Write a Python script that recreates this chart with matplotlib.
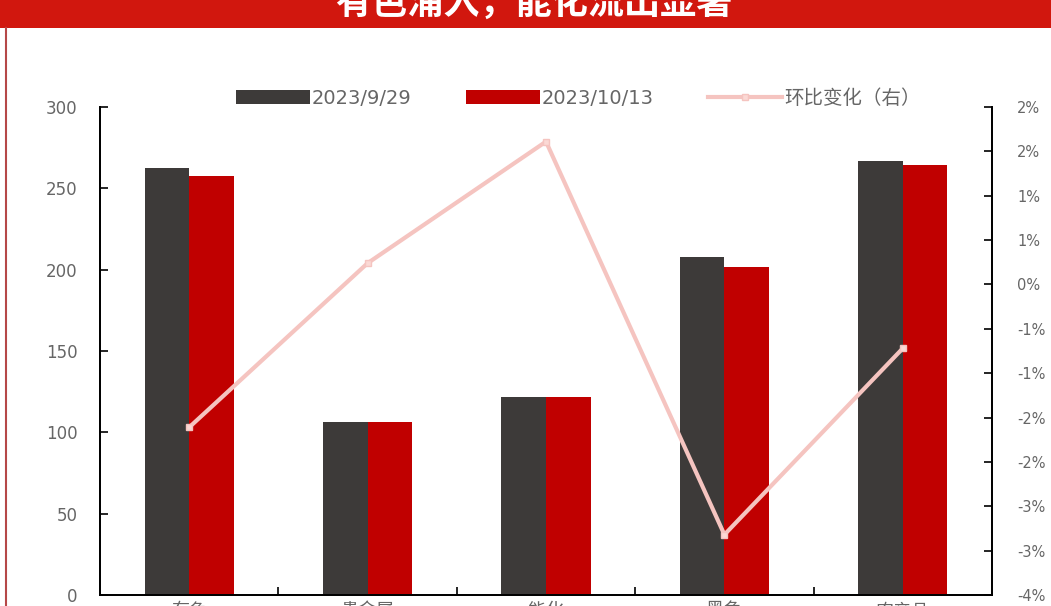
#!/usr/bin/env python3
"""
Sector fund flows: two snapshot bars per sector plus the period-over-period change on a right axis.
"""

import math
import numpy as np
import matplotlib
matplotlib.use("Agg")
import matplotlib.pyplot as plt
from matplotlib.ticker import FixedLocator, FuncFormatter

plt.rcParams["font.family"] = ["DejaVu Sans", "Noto Sans CJK SC"]

# ---- data ------------------------------------------------------------------
TITLE = "有色涌入，能化流出显著"
CATEGORIES = ["有色", "贵金属", "能化", "黑色", "农产品"]
SERIES_NAMES = ["2023/9/29", "2023/10/13", "环比变化（右）"]
VALUES_0929 = [262.3, 106.5, 121.9, 208.0, 267.0]
VALUES_1013 = [257.6, 106.5, 121.9, 201.8, 264.3]
CHANGE_PCT = [-1.61, 0.24, 1.61, -2.82, -0.72]
LEFT_TICKS = [0, 50, 100, 150, 200, 250, 300]
RIGHT_TICKS = [-3.5, -3.0, -2.5, -2.0, -1.5, -1.0, -0.5, 0.0, 0.5, 1.0, 1.5, 2.0]

DARK = "#3d3a39"
RED = "#c00000"
PINK = "#f5c4c0"
TITLE_RED = "#d1170e"
TICK_GREY = "#666666"


def pct_label(v, _pos=None):
    # Excel-style "0%" format: round half away from zero
    n = int(math.floor(abs(v) + 0.5))
    if n == 0:
        return "0%"
    return ("-" if v < 0 else "") + f"{n}%"


def main():
    fig = plt.figure(figsize=(10.51, 6.06), dpi=100)
    fig.patch.set_facecolor("white")

    # red title banner (its top is cut off in the reference)
    fig.patches.append(plt.Rectangle((0, 1 - 28 / 606), 1, 28 / 606,
                                     transform=fig.transFigure,
                                     facecolor=TITLE_RED, edgecolor="none"))
    fig.text(0.508, 1 - 3 / 606, TITLE, ha="center", va="center",
             fontsize=26, fontweight="bold", color="white",
             family=["Noto Sans CJK SC"])
    # thin frame line on the left
    fig.add_artist(plt.Line2D([6 / 1051, 6 / 1051], [0, 1 - 28 / 606],
                              transform=fig.transFigure,
                              color="#b54848", linewidth=1.5))

    ax = fig.add_axes([100 / 1051, 1 - 595 / 606, 892 / 1051, 488 / 606])
    x = np.arange(len(CATEGORIES))
    w = 0.25

    ax.bar(x - w / 2, VALUES_0929, width=w, color=DARK, label=SERIES_NAMES[0], zorder=2)
    ax.bar(x + w / 2, VALUES_1013, width=w, color=RED, label=SERIES_NAMES[1], zorder=2)

    ax.set_xlim(-0.5, len(CATEGORIES) - 0.5)
    ax.set_ylim(0, 300)
    ax.set_yticks(LEFT_TICKS)
    ax.set_xticks(x)
    ax.set_xticklabels(CATEGORIES, family=["Noto Sans CJK SC"], fontsize=13,
                       color=TICK_GREY)
    ax.xaxis.set_minor_locator(FixedLocator(x[:-1] + 0.5))
    ax.tick_params(axis="x", which="major", length=0, pad=5)
    ax.tick_params(axis="x", which="minor", direction="in", length=5.5, width=1.2)
    ax.tick_params(axis="y", direction="in", length=5.5, width=1.2, pad=16,
                   labelsize=12, labelcolor=TICK_GREY)

    ax2 = ax.twinx()
    ax2.plot(x, CHANGE_PCT, color=PINK, linewidth=3, marker="s", markersize=5,
             markerfacecolor="#fbd9d5", markeredgecolor=PINK,
             label=SERIES_NAMES[2], zorder=3)
    ax2.set_ylim(-3.5, 2.0)
    ax2.yaxis.set_major_locator(FixedLocator(RIGHT_TICKS))
    ax2.yaxis.set_major_formatter(FuncFormatter(pct_label))
    ax2.tick_params(axis="y", direction="in", length=5.5, width=1.2, pad=18,
                    labelsize=10.5, labelcolor=TICK_GREY)

    for a in (ax, ax2):
        for side in ("left", "right", "bottom"):
            a.spines[side].set_color("black")
            a.spines[side].set_linewidth(1.3)
        a.spines["top"].set_visible(False)

    h1, l1 = ax.get_legend_handles_labels()
    h2, l2 = ax2.get_legend_handles_labels()
    fig.legend(h1 + h2, l1 + l2, loc="center", ncol=3,
               bbox_to_anchor=(578 / 1051, 1 - 98 / 606),
               frameon=False, fontsize=14, handlelength=3.8,
               handleheight=0.7, handletextpad=0.1, columnspacing=2.8,
               labelcolor=TICK_GREY)

    fig.savefig("out.png", dpi=100, facecolor="white")


if __name__ == "__main__":
    main()
